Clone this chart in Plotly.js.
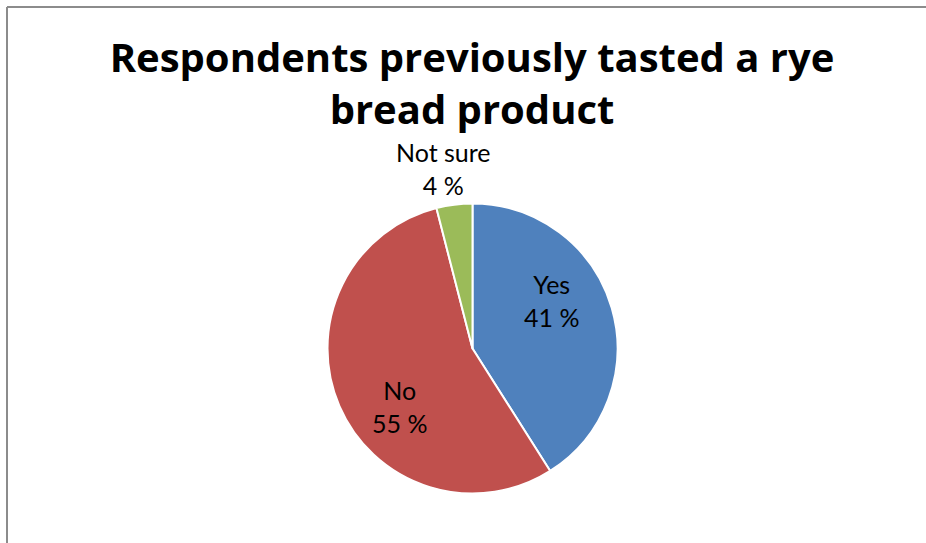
<!DOCTYPE html>
<html>
<head>
<meta charset="utf-8">
<script src="https://cdn.plot.ly/plotly-3.0.1.min.js"></script>
<style>html,body{margin:0;padding:0;background:#fff;}#chart{width:926px;height:543px;}</style>
</head>
<body>
<div id="chart"></div>
<script>
const categories = ['Yes', 'No', 'Not sure'];
const percentValues = [41, 55, 4];
const sliceColors = ['#4F81BD', '#C0504D', '#9BBB59'];
const labelPlacement = ['inside', 'inside', 'outside'];
const chartTitle = 'Respondents previously tasted a rye<br>bread product';

const W = 926, H = 543;
const cx = 472.5, cy = 348.5, R = 145;
const labelFont = {family: 'Lato, "DejaVu Sans", sans-serif', size: 25, color: '#000000'};

const trace = {
  type: 'pie',
  labels: categories,
  values: percentValues,
  sort: false,
  direction: 'clockwise',
  rotation: 0,
  marker: {colors: sliceColors, line: {color: '#ffffff', width: 2}},
  textinfo: 'none',
  hoverinfo: 'none',
  showlegend: false,
  domain: {x: [(cx - R) / W, (cx + R) / W], y: [(H - cy - R) / H, (H - cy + R) / H]}
};

// data labels placed from the slice geometry derived from the values
const total = percentValues.reduce((a, b) => a + b, 0);
const annotations = [];
let cum = 0;
percentValues.forEach((v, i) => {
  const midDeg = (cum + v / 2) / total * 360;
  cum += v;
  const text = categories[i] + '<br>' + v + ' %';
  if (labelPlacement[i] === 'inside') {
    const a = (midDeg - 15) * Math.PI / 180;
    const r = 0.64 * R;
    annotations.push({
      xref: 'paper', yref: 'paper',
      x: (cx + r * Math.sin(a)) / W, y: (H - (cy - r * Math.cos(a))) / H,
      xanchor: 'center', yanchor: 'middle', showarrow: false,
      text: text, font: labelFont, align: 'center'
    });
  } else {
    const a = midDeg * Math.PI / 180;
    const r = R + 3;
    annotations.push({
      xref: 'paper', yref: 'paper',
      x: (cx + r * Math.sin(a)) / W, y: (H - (cy - r * Math.cos(a))) / H,
      xanchor: 'center', yanchor: 'bottom', xshift: -10, showarrow: false,
      text: text, font: labelFont, align: 'center'
    });
  }
});

const layout = {
  width: W, height: H,
  margin: {l: 0, r: 0, t: 0, b: 0},
  paper_bgcolor: '#ffffff',
  showlegend: false,
  title: {
    text: chartTitle,
    font: {family: '"Open Sans", Lato, sans-serif', size: 40, color: '#000000', weight: 'bold'},
    x: 472 / W, xanchor: 'center',
    y: 1 - 72 / H, yref: 'container', yanchor: 'top'
  },
  annotations: annotations,
  shapes: [
    {type: 'line', xref: 'paper', yref: 'paper',
     x0: 7 / W, x1: 1, y0: 1 - 7 / H, y1: 1 - 7 / H,
     line: {color: '#8c8c8c', width: 2}},
    {type: 'line', xref: 'paper', yref: 'paper',
     x0: 7 / W, x1: 7 / W, y0: 0, y1: 1 - 7 / H,
     line: {color: '#8c8c8c', width: 2}}
  ]
};

Plotly.newPlot('chart', [trace], layout, {displayModeBar: false, staticPlot: true});
</script>
</body>
</html>
